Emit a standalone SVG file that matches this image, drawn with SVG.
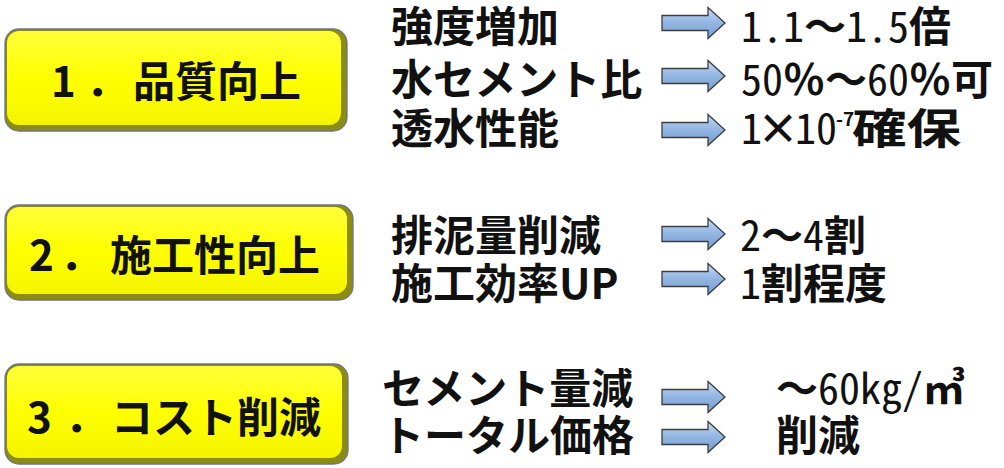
<svg xmlns="http://www.w3.org/2000/svg" width="1004" height="468" viewBox="0 0 1004 468">
<defs>
<linearGradient id="ag" x1="0" y1="0" x2="0" y2="1">
<stop offset="0" stop-color="#cadcf2"/>
<stop offset="0.45" stop-color="#95b8e4"/>
<stop offset="1" stop-color="#759dd0"/>
</linearGradient>
<linearGradient id="yg" x1="0" y1="0" x2="0" y2="1">
<stop offset="0" stop-color="#ffff3a"/>
<stop offset="0.5" stop-color="#ffff00"/>
<stop offset="1" stop-color="#f4f400"/>
</linearGradient>
<path id="arrow" d="M0,-7.5 H46 V-15.5 L63,0 L46,15.5 V7.5 H0 Z"/>
</defs>
<style>
.bevel{fill:#8c8c12;stroke:#6f7585;stroke-width:1.3}
.face{fill:url(#yg)}
.lbl{font-family:"Noto Sans CJK JP","Noto Sans",sans-serif;font-size:42px;font-weight:700;fill:#111}
.item{font-family:"Noto Sans CJK JP","Noto Sans",sans-serif;font-size:42px;font-weight:700;fill:#111}
.val{font-family:"Noto Sans CJK JP","Noto Sans",sans-serif;font-size:42px;font-weight:700;fill:#111}
.hw{font-feature-settings:"hwid";font-weight:400}
.sup{font-family:"Noto Sans CJK JP","Noto Sans",sans-serif;font-size:19px;font-weight:700;fill:#111}
.arr{fill:url(#ag);stroke:#3c3c3c;stroke-width:1.3;stroke-linejoin:miter}
</style>
<rect width="1004" height="468" fill="#ffffff"/>

<g id="node-quality">
<rect class="bevel" x="5" y="29" width="342" height="102" rx="14"/>
<rect class="face" x="7" y="31" width="334" height="94" rx="12"/>
<text class="lbl" y="97"><tspan x="51">1</tspan><tspan x="86">．</tspan><tspan x="133">品質向上</tspan></text>
</g>

<g id="node-workability">
<rect class="bevel" x="5" y="205" width="348" height="95" rx="14"/>
<rect class="face" x="7" y="207" width="340" height="87" rx="12"/>
<text class="lbl" y="271"><tspan x="29">2</tspan><tspan x="60">．</tspan><tspan x="110">施工性向上</tspan></text>
</g>

<g id="node-cost">
<rect class="bevel" x="5" y="364" width="343" height="100" rx="14"/>
<rect class="face" x="7" y="366" width="335" height="92" rx="12"/>
<text class="lbl" y="433"><tspan x="27">3</tspan><tspan x="65">．</tspan><tspan x="111">コスト削減</tspan></text>
</g>

<g id="items-quality">
<text class="item" x="391" y="42">強度増加</text>
<text class="item" x="391" y="95">水セメント比</text>
<text class="item" x="391" y="144">透水性能</text>
</g>
<g id="items-workability">
<text class="item" x="391" y="251">排泥量削減</text>
<text class="item" x="391" y="299">施工効率UP</text>
</g>
<g id="items-cost">
<text class="item" x="382" y="404">セメント量減</text>
<text class="item" x="382" y="451">トータル価格</text>
</g>

<g id="connectors">
<use href="#arrow" class="arr" transform="translate(662,23)"/>
<use href="#arrow" class="arr" transform="translate(662,76)"/>
<use href="#arrow" class="arr" transform="translate(662,130)"/>
<use href="#arrow" class="arr" transform="translate(662,234)"/>
<use href="#arrow" class="arr" transform="translate(662,279)"/>
<use href="#arrow" class="arr" transform="translate(662,397)"/>
<use href="#arrow" class="arr" transform="translate(662,437)"/>
</g>

<g id="values">
<text class="val" x="741" y="42"><tspan class="hw">1.1</tspan>～<tspan class="hw">1.5</tspan>倍</text>
<text class="val" x="741" y="95"><tspan class="hw">50</tspan>％～<tspan class="hw">60</tspan>％可</text>
<text class="val" y="144"><tspan x="741" class="hw">1</tspan><tspan x="757">×</tspan><tspan x="795" class="hw">10</tspan></text>
<text class="sup" x="836" y="126">-7</text>
<text class="val" transform="translate(852,144) scale(1.3,1)">確保</text>
<text class="val" x="740" y="251"><tspan class="hw">2</tspan>～<tspan class="hw">4</tspan>割</text>
<text class="val" x="740" y="299"><tspan class="hw">1</tspan>割程度</text>
<text class="val" x="776" y="404">～<tspan class="hw">60kg/</tspan>㎥</text>
<text class="val" x="776" y="451">削減</text>
</g>
</svg>
